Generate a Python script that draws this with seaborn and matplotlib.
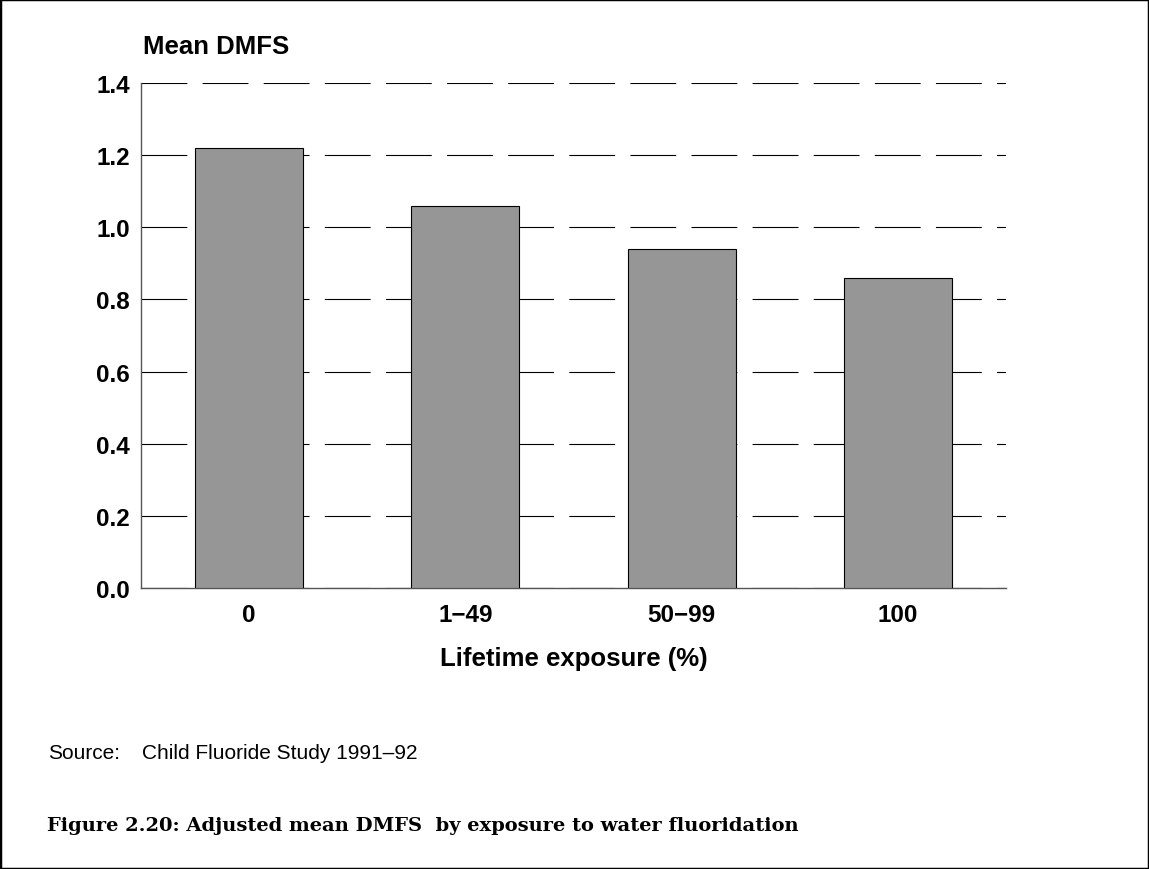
import matplotlib
matplotlib.use("Agg")
import matplotlib.pyplot as plt
from matplotlib.patches import Rectangle
import seaborn as sns
import pandas as pd

exposure = ["0", "1\u221249", "50\u221299", "100"]
mean_dmfs = [1.22, 1.06, 0.94, 0.86]
y_ticks = [0.0, 0.2, 0.4, 0.6, 0.8, 1.0, 1.2, 1.4]

sns.set_style("white")
plt.rcParams["font.family"] = ["Liberation Sans", "DejaVu Sans"]
plt.rcParams["lines.scale_dashes"] = False
for key in ["text.color", "axes.labelcolor", "xtick.color", "ytick.color"]:
    plt.rcParams[key] = "black"

df = pd.DataFrame({"exposure": exposure, "dmfs": mean_dmfs})

fig = plt.figure(figsize=(11.49, 8.70), dpi=100)
ax = fig.add_axes([0.1227, 0.323, 0.7528, 0.5805])

sns.barplot(data=df, x="exposure", y="dmfs", color="#969696",
            saturation=1, edgecolor="black", linewidth=0.8,
            width=0.5, ax=ax, zorder=3)

ax.set_xlim(-0.5, 3.5)
ax.set_ylim(0, 1.4)
ax.set_yticks(y_ticks)
ax.set_yticklabels([f"{t:.1f}" for t in y_ticks])
ax.yaxis.grid(True, color="black", linewidth=0.8, linestyle=(0, (33, 11)))
ax.set_axisbelow(True)

for s in ["top", "right"]:
    ax.spines[s].set_visible(False)
for s in ["left", "bottom"]:
    ax.spines[s].set_color("#555555")
    ax.spines[s].set_linewidth(1.0)

ax.tick_params(axis="both", length=0, labelsize=17.5)
ax.tick_params(axis="y", pad=8)
ax.tick_params(axis="x", pad=11)
for lab in ax.get_xticklabels() + ax.get_yticklabels():
    lab.set_fontweight("bold")

ax.set_xlabel("Lifetime exposure (%)", fontsize=18.5, fontweight="bold", labelpad=14)
ax.set_ylabel("")
ax.text(0.002, 1.05, "Mean DMFS", transform=ax.transAxes, fontsize=18.5,
        fontweight="bold", ha="left", va="bottom")

fig.text(48 / 1149, 1 - 754 / 870, "Source:", fontsize=15, ha="left", va="center")
fig.text(142 / 1149, 1 - 754 / 870, "Child Fluoride Study 1991\u201392",
         fontsize=15, ha="left", va="center")
fig.text(47 / 1149, 1 - 826 / 870,
         "Figure 2.20: Adjusted mean DMFS  by exposure to water fluoridation",
         fontsize=14, fontweight="bold", family=["DejaVu Serif"],
         ha="left", va="center")

fig.patches.append(Rectangle((0, 0), 1, 1, transform=fig.transFigure,
                             fill=False, edgecolor="black", linewidth=2.5))

fig.savefig("out.png", dpi=100)
